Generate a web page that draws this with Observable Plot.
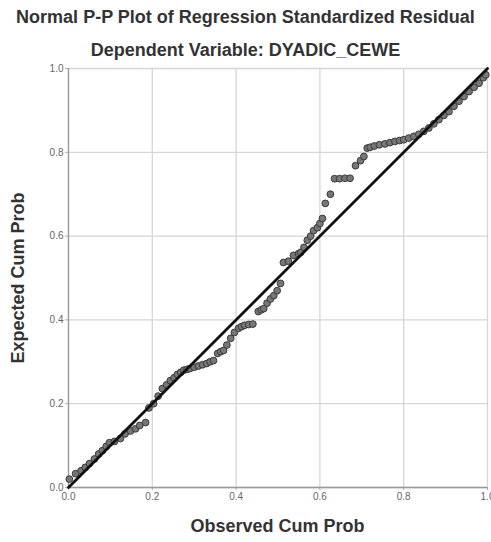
<!DOCTYPE html>
<html><head><meta charset="utf-8">
<script src="https://cdn.jsdelivr.net/npm/d3@7"></script>
<script src="https://cdn.jsdelivr.net/npm/@observablehq/plot@0.6"></script>
<style>
body{margin:0;background:#fff;font-family:"Liberation Sans",Arial,sans-serif;}
#wrap{position:relative;width:491px;height:542px;overflow:hidden;}
.t{position:absolute;left:0;width:491px;text-align:center;font-weight:bold;color:#333;font-size:18px;line-height:21px;white-space:nowrap;}
#chart{position:absolute;top:62px;left:0;}
#ylab{position:absolute;left:18px;top:278px;transform:translate(-50%,-50%) rotate(-90deg);font-weight:bold;color:#333;font-size:18px;line-height:21px;white-space:nowrap;}
</style></head><body>
<div id="wrap">
<div class="t" style="top:7px">Normal P-P Plot of Regression Standardized Residual</div>
<div class="t" style="top:40px">Dependent Variable: DYADIC_CEWE</div>
<div id="chart"></div>
<div class="t" style="top:516px;left:32px">Observed Cum Prob</div>
<div id="ylab">Expected Cum Prob</div>
</div>
<script>
const observed = [
0.002,0.017,0.03,0.04,0.05,0.062,0.072,0.081,0.09,0.098,0.11,0.124,0.135,0.148,0.16,0.17,0.184,
0.192,0.203,0.214,0.224,0.234,0.243,0.252,0.26,0.268,0.275,0.283,0.29,0.3,0.31,0.32,0.33,0.338,0.346,0.356,0.363,0.37,0.378,0.387,
0.396,0.406,0.413,0.42,0.43,0.44,0.453,0.46,0.466,0.474,0.482,0.49,0.498,0.506,0.513,0.525,0.537,0.549,0.554,0.562,0.57,0.578,0.585,0.594,0.6,
0.606,0.613,0.625,0.635,0.647,0.66,0.672,0.685,0.697,0.705,0.713,
0.72,0.73,0.742,0.755,0.767,0.779,0.79,0.80,0.812,0.824,0.836,0.848,0.86,
0.872,0.884,0.896,0.908,0.92,0.932,0.944,0.956,0.968,0.98,0.99,0.996
];
const expected = [
0.02,0.033,0.04,0.048,0.057,0.068,0.08,0.088,0.098,0.107,0.11,0.117,0.128,0.135,0.14,0.148,0.155,
0.19,0.2,0.218,0.236,0.245,0.255,0.262,0.27,0.275,0.28,0.282,0.284,0.287,0.29,0.293,0.296,0.3,0.303,0.32,0.324,0.327,0.34,0.356,
0.37,0.38,0.384,0.387,0.389,0.39,0.42,0.424,0.427,0.44,0.45,0.458,0.47,0.487,0.537,0.54,0.554,0.558,0.561,0.573,0.59,0.6,0.613,0.62,0.63,
0.642,0.678,0.70,0.737,0.737,0.738,0.738,0.768,0.78,0.79,0.81,
0.812,0.815,0.818,0.82,0.823,0.826,0.828,0.83,0.834,0.838,0.843,0.85,0.858,
0.868,0.878,0.888,0.897,0.91,0.922,0.933,0.945,0.955,0.965,0.978,0.985
];
const ticks = [0, 0.2, 0.4, 0.6, 0.8, 1.0];
const refLine = [0, 1];

const pts = observed.map((x, i) => ({x, y: expected[i]}));
const chart = Plot.plot({
  width: 491,
  height: 480,
  marginTop: 6,
  marginBottom: 55,
  marginLeft: 68,
  marginRight: 4,
  style: {fontFamily: '"Liberation Sans", Arial, sans-serif', fontSize: "10px", color: "#666", background: "#fff"},
  x: {domain: [0, 1]},
  y: {domain: [0, 1]},
  marks: [
    Plot.gridX(ticks, {stroke: "#d6d6d6", strokeOpacity: 1, strokeWidth: 1.3}),
    Plot.gridY(ticks, {stroke: "#d6d6d6", strokeOpacity: 1, strokeWidth: 1.3}),
    Plot.axisX({ticks, tickFormat: d3.format(".1f"), tickSize: 3, tickPadding: 2, label: null, stroke: "#aaa", color: "#666"}),
    Plot.axisY({ticks, tickFormat: d3.format(".1f"), tickSize: 3, tickPadding: 2, label: null, stroke: "#aaa", color: "#666"}),
    Plot.ruleX([0], {stroke: "#999", strokeWidth: 1.3}),
    Plot.ruleY([0], {stroke: "#999", strokeWidth: 1.3}),
    Plot.dot(pts, {x: "x", y: "y", r: 3.4, fill: "#777", stroke: "#3a3a3a", strokeWidth: 1}),
    Plot.line(refLine.map(v => ({v})), {x: "v", y: "v", stroke: "#111", strokeWidth: 2.8})
  ]
});
document.getElementById("chart").appendChild(chart);
</script>
</body></html>
